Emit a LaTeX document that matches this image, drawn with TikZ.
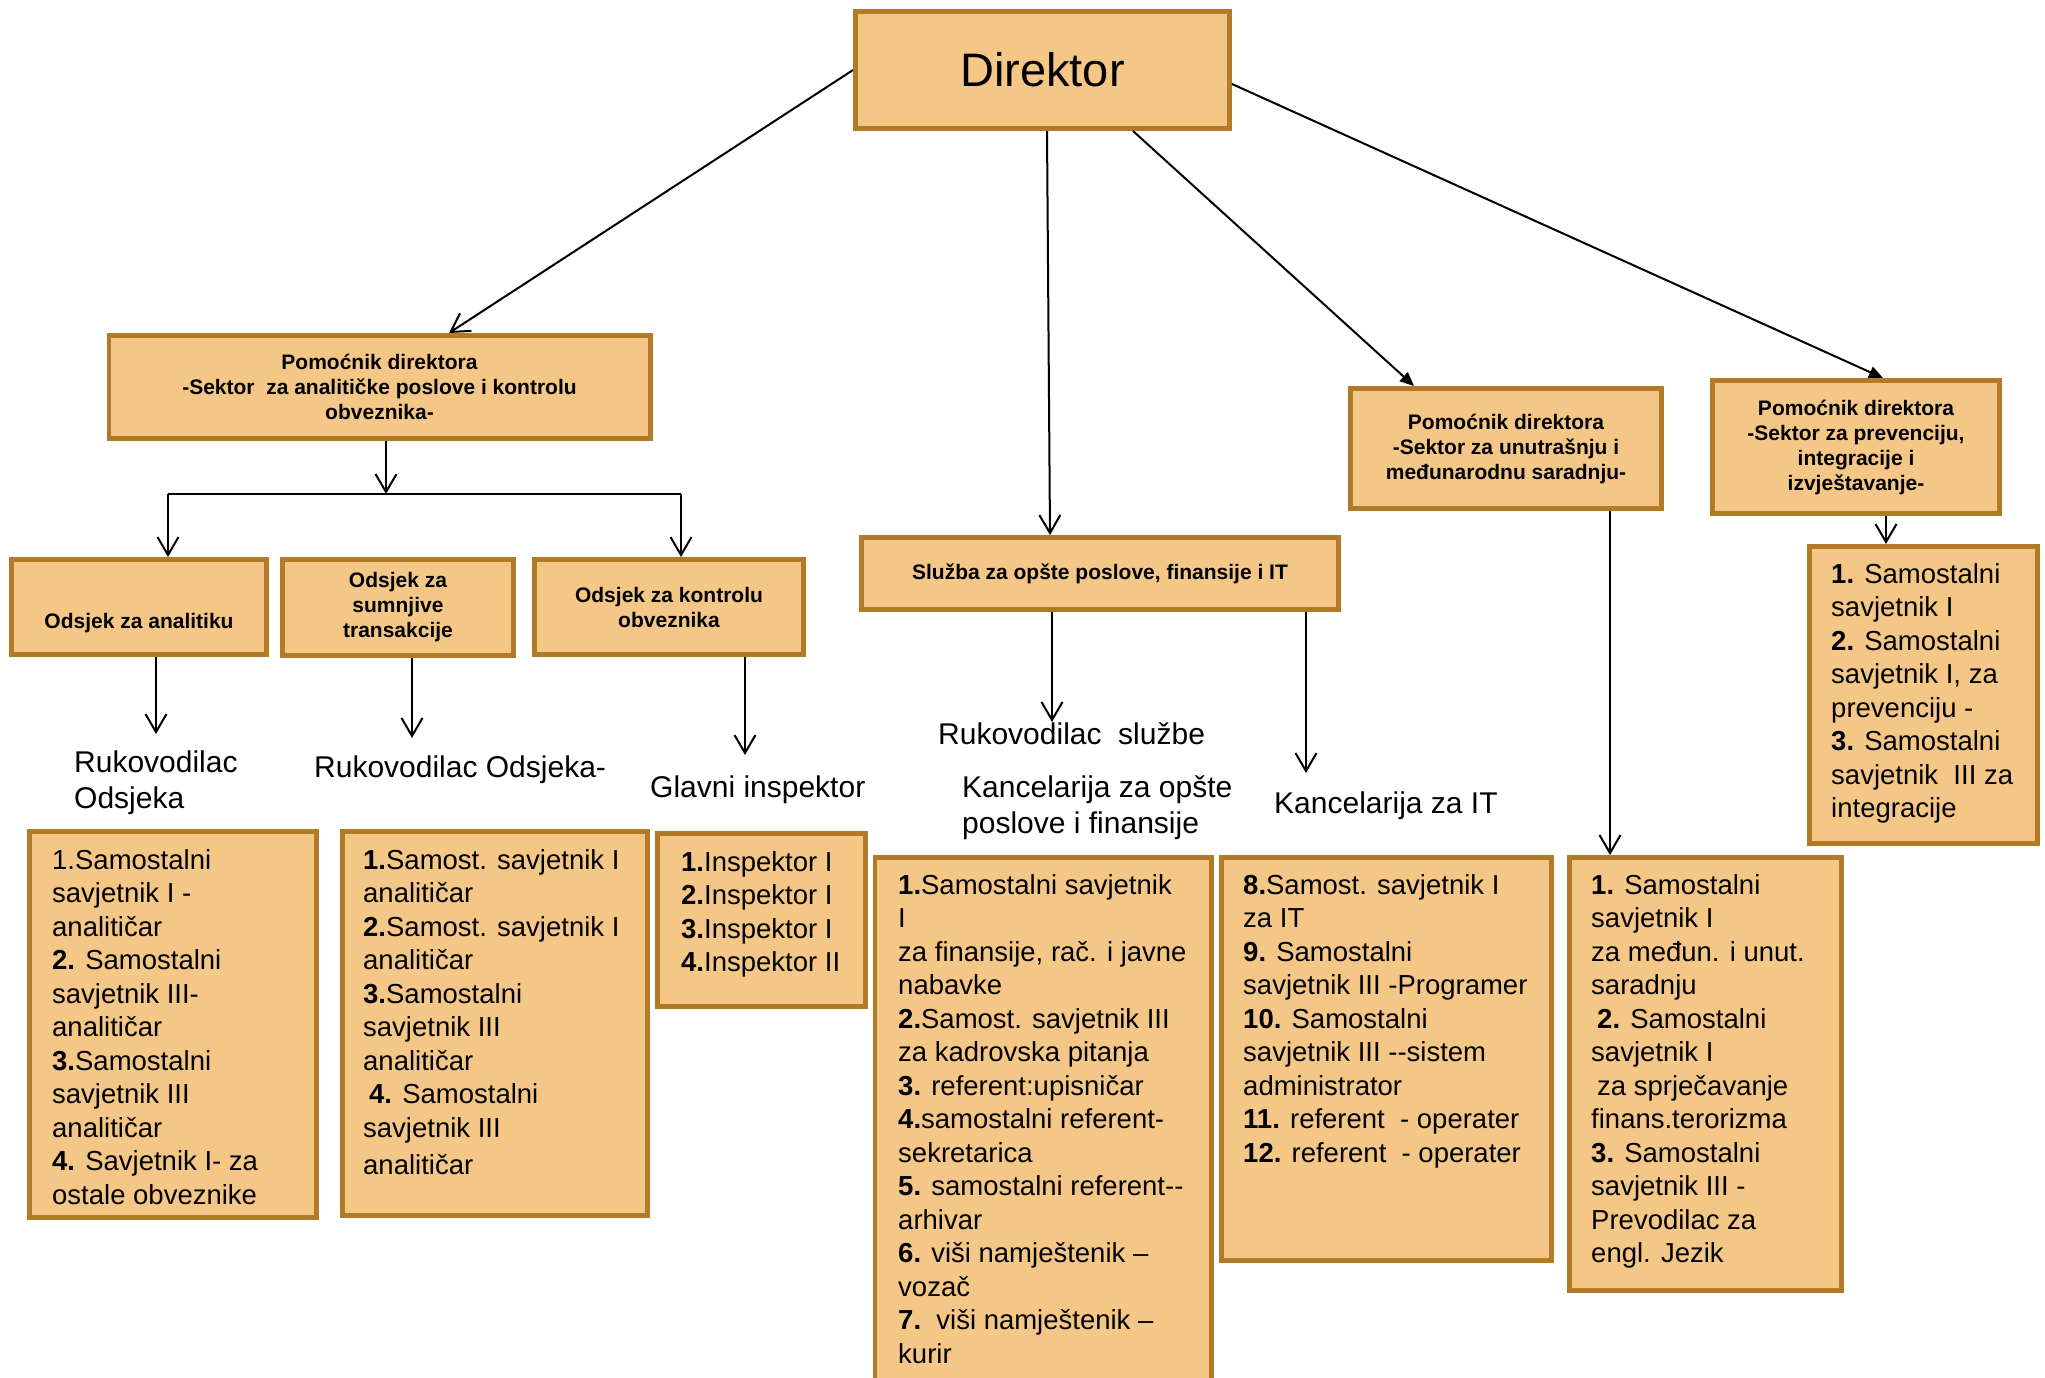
\documentclass[tikz,border=0pt]{standalone}
\usepackage{fontspec}
\setmainfont{Liberation Sans}
\usetikzlibrary{arrows.meta}
\definecolor{boxfill}{RGB}{245,199,134}
\definecolor{boxedge}{RGB}{178,122,38}
\tikzset{
  orgbox/.style={draw=boxedge, fill=boxfill, line width=4.7pt, inner sep=0pt, align=center},
  headbox/.style={orgbox, font=\fontsize{21}{25}\selectfont\bfseries},
  listtext/.style={anchor=north west, inner sep=0pt, align=left, font=\fontsize{27.5}{33.5}\selectfont},
  plain/.style={anchor=north west, inner sep=0pt, align=left, font=\fontsize{30}{36}\selectfont},
  barb/.style={line width=2pt, -{Straight Barb[length=18pt,width=21pt]}},
  solidtip/.style={line width=2pt, -{Triangle[length=14pt,width=12pt]}}
}

\begin{document}
\begin{tikzpicture}[x=1pt,y=-1pt]
\useasboundingbox[fill=white] (0,0) rectangle (2045,1377);
\clip (0,0) rectangle (2045,1377);

\node[orgbox, minimum width=374.3, minimum height=117.3, font=\fontsize{47}{56}\selectfont] (dir) at (1042.5,70) {Direktor};
\node[headbox, minimum width=541.3, minimum height=103.3] (pom1) at (379.5,387)
  {Pomoćnik direktora\\-Sektor\ \ za analitičke poslove i kontrolu\\obveznika-};
\node[headbox, minimum width=255.3, minimum height=95.3, text height=47pt] (odsA) at (139,607) {Odsjek za analitiku};
\node[headbox, minimum width=231.3, minimum height=96.3] (odsS) at (398,607.5) {Odsjek za\\sumnjive\\transakcije};
\node[headbox, minimum width=269.3, minimum height=95.3] (odsK) at (669,607) {Odsjek za kontrolu\\obveznika};
\node[headbox, minimum width=477.3, minimum height=72.3] (sluzba) at (1100,573.5) {Služba za opšte poslove, finansije i IT};
\node[headbox, minimum width=311.3, minimum height=120.3] (pomU) at (1506,448.5)
  {Pomoćnik direktora\\-Sektor za unutrašnju i\\međunarodnu saradnju-};
\node[headbox, minimum width=287.3, minimum height=133.3] (pomP) at (1856,447)
  {Pomoćnik direktora\\-Sektor za prevenciju,\\integracije i\\izvještavanje-};

\node[orgbox, minimum width=287.3, minimum height=386.3] (list1) at (173,1024.5) {};
\node[orgbox, minimum width=305.3, minimum height=384.3] (list2) at (495,1023.5) {};
\node[orgbox, minimum width=208.3, minimum height=173.3] (listI) at (761.5,920) {};
\node[orgbox, minimum width=336.3, minimum height=560] (listK) at (1043,1137.5) {};
\node[orgbox, minimum width=330.3, minimum height=403.3] (listIT) at (1386.5,1059) {};
\node[orgbox, minimum width=272.3, minimum height=433.3] (listU) at (1705.5,1074) {};
\node[orgbox, minimum width=228.3, minimum height=297.3] (listP) at (1923.5,695) {};

\node[listtext] (list1t) at (52,849) {1.Samostalni\\savjetnik I -\\analitičar\\\textbf{2.} Samostalni\\savjetnik III-\\analitičar\\
  \textbf{3.}Samostalni\\savjetnik III\\analitičar\\\textbf{4.} Savjetnik I- za\\ostale obveznike};
\node[listtext] (list2t) at (363,849) {\textbf{1.}Samost. savjetnik I\\analitičar\\\textbf{2.}Samost. savjetnik I\\analitičar\\
  \textbf{3.}Samostalni\\savjetnik III\\analitičar\\\hspace*{6pt}\textbf{4.} Samostalni\\savjetnik III\\[4pt]analitičar};
\node[listtext] (listIt) at (681,851) {\textbf{1.}Inspektor I\\\textbf{2.}Inspektor I\\\textbf{3.}Inspektor I\\\textbf{4.}Inspektor II};
\node[listtext] (listKt) at (898,874) {\textbf{1.}Samostalni savjetnik\\I\\za finansije, rač. i javne\\nabavke\\
  \textbf{2.}Samost. savjetnik III\\za kadrovska pitanja\\\textbf{3.} referent:upisničar\\
  \textbf{4.}samostalni referent-\\sekretarica\\\textbf{5.} samostalni referent-{}-\\arhivar\\
  \textbf{6.} viši namještenik –\\vozač\\\textbf{7.}\ \ viši namještenik –\\kurir};
\node[listtext] (listITt) at (1243,874) {\textbf{8.}Samost. savjetnik I\\za IT\\\textbf{9.} Samostalni\\savjetnik III -Programer\\
  \textbf{10.} Samostalni\\savjetnik III -{}-sistem\\administrator\\
  \textbf{11.} referent\ \ - operater\\\textbf{12.} referent\ \ - operater};
\node[listtext] (listUt) at (1591,874) {\textbf{1.} Samostalni\\savjetnik I\\za međun. i unut.\\saradnju\\
  \hspace*{6pt}\textbf{2.} Samostalni\\savjetnik I\\\hspace*{6pt}za sprječavanje\\finans.terorizma\\
  \textbf{3.} Samostalni\\savjetnik III -\\Prevodilac za\\engl. Jezik};
\node[listtext] (listPt) at (1831,563) {\textbf{1.} Samostalni\\savjetnik I\\\textbf{2.} Samostalni\\savjetnik I, za\\
  prevenciju -\\\textbf{3.} Samostalni\\savjetnik\ \ III za\\integracije};

\node[plain] (rukA) at (74,751) {Rukovodilac\\Odsjeka};
\node[plain] (rukS) at (314,756) {Rukovodilac Odsjeka-};
\node[plain] (glavni) at (650,776) {Glavni inspektor};
\node[plain] (rukSl) at (938,722) {Rukovodilac\ \ službe};
\node[plain] (kanc) at (962,775) {Kancelarija za opšte\\poslove i finansije};
\node[plain] (kancIT) at (1274,792) {Kancelarija za IT};

\coordinate (fork) at (386,494);
\coordinate (forkL) at (168,494);
\coordinate (forkR) at (681,494);
\coordinate (tipA) at (156,734);
\coordinate (tipS) at (412,738);
\coordinate (tipK) at (745,755);
\coordinate (tipSl) at (1052,722);
\coordinate (tipIT) at (1306,773);

\draw[barb] (dir.west) -- ([xshift=69.5pt]pom1.north);
\draw[barb] ([xshift=4.5pt]dir.south) -- ([xshift=-50pt]sluzba.north);
\draw[solidtip] ([xshift=90.5pt]dir.south) -- ([xshift=-92pt]pomU.north);
\draw[solidtip] ([yshift=-14pt]dir.east) -- ([xshift=27pt]pomP.north);

\draw[barb] (fork |- pom1.south) -- (fork);
\draw[line width=2pt] (forkL) -- (forkR);
\draw[barb] (forkL) -- (forkL |- odsA.north);
\draw[barb] (forkR) -- (forkR |- odsK.north);

\draw[barb] (tipA |- odsA.south) -- (tipA);
\draw[barb] (tipS |- odsS.south) -- (tipS);
\draw[barb] (tipK |- odsK.south) -- (tipK);
\draw[barb] (tipSl |- sluzba.south) -- (tipSl);
\draw[barb] (tipIT |- sluzba.south) -- (tipIT);
\draw[barb] ([xshift=104pt]pomU.south) -- ([xshift=-95.5pt]listU.north);
\draw[barb] ([xshift=30pt]pomP.south) -- ([xshift=-37.5pt]listP.north);
\end{tikzpicture}
\end{document}
